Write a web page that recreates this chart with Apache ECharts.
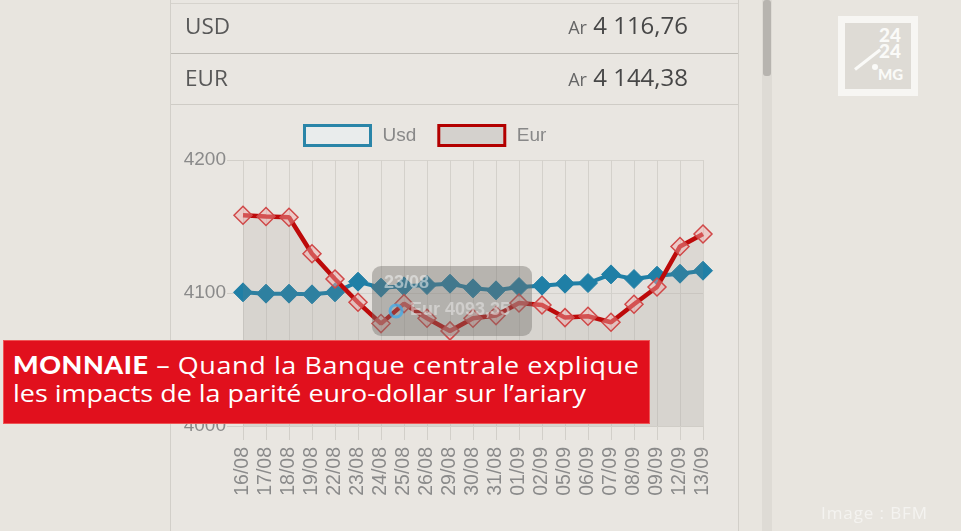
<!DOCTYPE html>
<html><head><meta charset="utf-8">
<script src="https://cdn.jsdelivr.net/npm/echarts@6/dist/echarts.min.js"></script>
<style>
html,body{margin:0;padding:0;width:961px;height:531px;overflow:hidden;background:#e8e5df;font-family:"Open Sans",sans-serif;}
#chart{position:absolute;left:0;top:0;width:961px;height:531px;}
.abs{position:absolute;}
</style></head><body>
<div class="abs" style="left:170px;top:0;width:567px;height:531px;border-left:1px solid #d2cfc9;border-right:1px solid #d2cfc9;background:#e9e6e1"></div>
<div class="abs" style="left:762px;top:0;width:10px;height:531px;background:#dedbd5"></div>
<div class="abs" style="left:763px;top:0;width:8px;height:76px;background:#b7b4af;border-radius:3px"></div>
<div class="abs" style="left:171px;top:53px;width:567px;height:1px;background:#bdbab4"></div>
<div class="abs" style="left:171px;top:104px;width:567px;height:1px;background:#cfccc6"></div>
<div class="abs" style="left:171px;top:3px;width:567px;height:1px;background:#d6d3cd"></div>
<div id="chart"></div>
<div class="abs" style="left:185px;top:10px;font-size:22.5px;color:#585858">USD</div>
<div class="abs" style="left:185px;top:62px;font-size:22.5px;color:#585858">EUR</div>
<div class="abs" style="right:273px;top:8px;font-size:24px;color:#474747;text-align:right;white-space:nowrap"><span style="font-size:18px;color:#666">Ar</span> 4 116,76</div>
<div class="abs" style="right:273px;top:60px;font-size:24px;color:#474747;text-align:right;white-space:nowrap"><span style="font-size:18px;color:#666">Ar</span> 4 144,38</div>
<div class="abs" style="left:3px;top:340px;width:647px;height:84px;background:#e1101d;border:1px solid #ee5555;box-sizing:border-box"></div>
<div class="abs" id="ban" style="left:13px;top:351px;font-family:'Open Sans',sans-serif;font-size:24px;line-height:28px;color:#fff;white-space:nowrap;transform-origin:left top">
<span style="font-family:Lato,sans-serif;font-weight:900;letter-spacing:0.5px">MONNAIE</span><span style="letter-spacing:0.55px"> – Quand la Banque centrale explique</span><br><span id="ban2">les impacts de la parité euro-dollar sur l’ariary</span>
</div>
<div class="abs" style="left:821px;top:501px;font-size:17px;color:#f4f3f0;letter-spacing:0.9px">Image : BFM</div>
<div class="abs" style="left:838px;top:16px;width:80px;height:80px;box-sizing:border-box;border:7px solid #f7f6f3;background:#dedbd5"></div>
<div class="abs" style="left:879px;top:27px;font-family:Lato,sans-serif;font-weight:900;font-size:19px;line-height:16px;color:#fafaf8">24<br>24</div>
<div class="abs" style="left:878px;top:65px;font-family:Lato,sans-serif;font-weight:900;font-size:15px;color:#fafaf8">MG</div>
<div class="abs" style="left:855px;top:68px;width:32px;height:3px;background:#fafaf8;transform:rotate(-38deg);transform-origin:left center"></div>
<div class="abs" style="left:872px;top:64px;width:6px;height:6px;border-radius:50%;background:#fafaf8"></div>
<script>
var categories = ['16/08','17/08','18/08','19/08','22/08','23/08','24/08','25/08','26/08','29/08','30/08','31/08','01/09','02/09','05/09','06/09','07/09','08/09','09/09','12/09','13/09'];
var usdValues = [4100.5,4099.5,4099.5,4099,4100.5,4108.5,4104,4105,4106,4107,4103.5,4102,4104.5,4105.5,4107,4107.5,4114,4110.5,4113,4114.5,4116.76];
var eurValues = [4158.5,4157.5,4157,4129.5,4110.5,4093,4077,4092,4081,4071.5,4081,4083,4092.5,4091,4081.5,4082.5,4078,4091.5,4104.5,4135,4144.38];
var yTicks = {min:4000, max:4200, interval:100};

// fit banner text width
(function(){
  var b2 = document.getElementById('ban2');
  var w = b2.getBoundingClientRect().width;
  if (w > 0) {
    var s = 573 / w;
    document.getElementById('ban').style.transform = 'scaleX(' + s + ')';
  }
})();

var chart = echarts.init(document.getElementById('chart'), null, {renderer:'canvas'});
chart.setOption({
  backgroundColor:'transparent',
  animation:false,
  grid:{left:243,right:258,top:160,bottom:105},
  legend:{
    left:298, top:119, itemWidth:66, itemHeight:20, itemGap:21,
    icon:'rect',
    textStyle:{fontSize:19,color:'#888',fontFamily:'Liberation Sans',padding:[0,0,0,7]},
    data:[
      {name:'Usd',itemStyle:{color:'#e9ecec',borderColor:'#2a85a8',borderWidth:3}},
      {name:'Eur',itemStyle:{color:'#d4d1cd',borderColor:'#b30000',borderWidth:3}}
    ]
  },
  xAxis:{
    type:'category', data:categories, boundaryGap:false,
    axisLine:{show:true,lineStyle:{color:'#d0cdc7'}},
    axisTick:{show:true,length:14,lineStyle:{color:'#d2cfc9'}},
    axisLabel:{rotate:90,fontSize:19.5,color:'#8a8a8a',margin:21,fontFamily:'Liberation Sans',interval:0},
    splitLine:{show:true,lineStyle:{color:'#d4d1cb',width:1}}
  },
  yAxis:{
    type:'value', min:yTicks.min, max:yTicks.max, interval:yTicks.interval,
    axisLine:{show:false},
    axisTick:{show:true,length:16,lineStyle:{color:'#d2cfc9'}},
    axisLabel:{fontSize:19,color:'#8a8a8a',margin:17,fontFamily:'Liberation Sans',formatter:function(v){return String(v);}},
    splitLine:{show:true,lineStyle:{color:'#d6d3cd',width:1}}
  },
  series:[
    {name:'Usd',type:'line',data:usdValues,symbol:'diamond',symbolSize:19,
     lineStyle:{color:'#1f7fa6',width:4},
     itemStyle:{color:'#1f7fa6',borderColor:'#1f7fa6',borderWidth:1},
     areaStyle:{color:'rgba(205,205,205,0.25)',origin:'start'},z:2},
    {name:'Eur',type:'line',data:eurValues,symbol:'diamond',symbolSize:18,
     lineStyle:{color:'#bd0a0a',width:4.5},
     itemStyle:{color:'rgba(240,170,170,0.45)',borderColor:'#d04848',borderWidth:1.5},
     areaStyle:{color:'rgba(140,135,130,0.2)',origin:'start'},z:3}
  ],
  graphic:[
    {type:'rect',left:372,top:266,shape:{width:160,height:70,r:9},style:{fill:'rgba(115,112,108,0.42)'},z:100},
    {type:'text',left:384,top:274,style:{text:'23/08',fill:'rgba(240,240,240,0.55)',font:'bold 18px "Liberation Sans"'},z:101},
    {type:'circle',shape:{cx:396,cy:311,r:6},style:{fill:'none',stroke:'rgba(70,170,230,0.8)',lineWidth:3},z:101},
    {type:'text',left:410,top:301,style:{text:'Eur 4093,35',fill:'rgba(235,235,235,0.5)',font:'bold 18px "Liberation Sans"'},z:101}
  ]
});
</script>
</body></html>
